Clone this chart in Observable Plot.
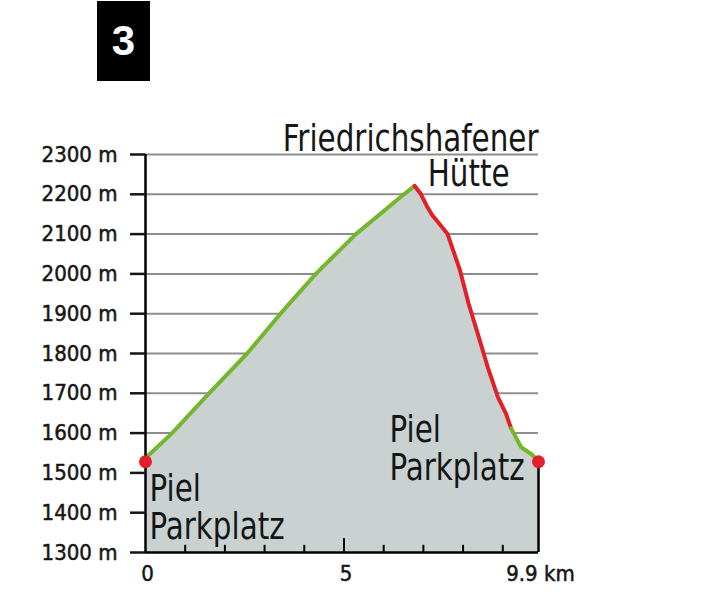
<!DOCTYPE html>
<html>
<head>
<meta charset="utf-8">
<script src="https://cdn.jsdelivr.net/npm/d3@7"></script>
<script src="https://cdn.jsdelivr.net/npm/@observablehq/plot@0.6"></script>
<style>
  body { margin: 0; background: #fff; }
  #wrap { position: relative; width: 712px; height: 603px; overflow: hidden; }
  #chart { position: absolute; left: 0; top: 0; }
  #badge { position: absolute; left: 97px; top: 1px; width: 53px; height: 80px; background: #000; z-index: 2; }
  #badge span { position: absolute; left: 0; width: 100%; top: 16px; line-height: 42px; text-align: center;
    color: #fff; font: bold 42px "Liberation Sans", Arial, sans-serif; }
</style>
</head>
<body>
<div id="wrap">
  <div id="chart"></div>
  <div id="badge"><span>3</span></div>
</div>
<script>
// ---- data ----
const upKm   = [0, 0.05, 0.67, 1.6, 2.56, 3.4, 4.29, 5.3, 6.51, 6.78];
const upElev = [1528, 1542, 1600, 1700, 1800, 1900, 2000, 2100, 2200, 2221];

const downKm   = [6.78, 6.94, 7.1, 7.22, 7.35, 7.61, 7.92, 8.14, 8.37, 8.62, 8.88, 9.08, 9.21];
const downElev = [2221, 2200, 2168, 2148, 2132, 2100, 2010, 1925, 1850, 1766, 1690, 1649, 1612];

const endKm   = [9.21, 9.29, 9.46, 9.75, 9.9];
const endElev = [1612, 1597, 1565, 1545, 1528];

const yTicks = [1300, 1400, 1500, 1600, 1700, 1800, 1900, 2000, 2100, 2200, 2300];
const gridElev = [1400, 1500, 1600, 1700, 1800, 1900, 2000, 2100, 2200, 2300];
const xMinorTicks = [1, 2, 3, 4, 6, 7, 8, 9];
const xMajorTicks = [5];
const xLabelKm = [0, 5, 9.9];
const xLabelText = ["0", "5", "9.9 km"];

const endpointKm = [0, 9.9];
const endpointElev = [1528, 1528];

const summitName = "Friedrichshafener";
const summitName2 = "Hütte";
const parkingName = "Piel\nParkplatz";

// ---- build tables ----
const zip = (ks, es) => ks.map((k, i) => ({km: k, elev: es[i]}));
const up = zip(upKm, upElev);
const down = zip(downKm, downElev);
const end = zip(endKm, endElev);
const profile = [...up, ...down.slice(1), ...end.slice(1)];
const endpoints = zip(endpointKm, endpointElev);
const xLabels = xLabelKm.map((k, i) => ({km: k, label: xLabelText[i]}));

const GREEN = "#74b72e";
const RED = "#e2202a";
const FILL = "#c9d1d1";
const GRID = "#8e8e8e";
const INK = "#161616";
const AXIS_FONT = "'DejaVu Sans Condensed', 'DejaVu Sans', sans-serif";
const LABEL_FONT = "'Liberation Sans Narrow', 'DejaVu Sans Condensed', sans-serif";
const LABEL_SIZE = 38;

const xMin = 0, xMax = 9.9, yMin = 1300, yMax = 2300;

const labelOpts = {fontSize: LABEL_SIZE, fontFamily: LABEL_FONT, fill: INK, lineHeight: 1.0};

const chart = Plot.plot({
  width: 712,
  height: 603,
  marginLeft: 145,
  marginRight: 174,
  marginTop: 154,
  marginBottom: 51,
  x: {domain: [xMin, xMax], axis: null},
  y: {domain: [yMin, yMax]},
  style: {background: "white", color: INK, fontFamily: AXIS_FONT, overflow: "visible"},
  marks: [
    Plot.ruleY(gridElev, {x1: xMin, x2: xMax, stroke: GRID, strokeWidth: 2}),
    Plot.areaY(profile, {x: "km", y1: yMin, y2: "elev", fill: FILL}),
    Plot.line(up, {x: "km", y: "elev", stroke: GREEN, strokeWidth: 4, strokeLinejoin: "round", strokeLinecap: "round"}),
    Plot.line(down, {x: "km", y: "elev", stroke: RED, strokeWidth: 4, strokeLinejoin: "round", strokeLinecap: "round"}),
    Plot.line(end, {x: "km", y: "elev", stroke: GREEN, strokeWidth: 4, strokeLinejoin: "round", strokeLinecap: "round"}),
    Plot.ruleX([xMin], {y1: yMin, y2: yMax, stroke: "#000", strokeWidth: 2.5}),
    Plot.ruleX([xMax], {y1: yMin, y2: endpointElev[1], stroke: "#000", strokeWidth: 2.5}),
    Plot.ruleY([yMin], {x1: xMin, x2: xMax, stroke: "#000", strokeWidth: 2.5}),
    Plot.ruleX(xMinorTicks, {y1: yMin, y2: yMin + 18, stroke: "#000", strokeWidth: 2}),
    Plot.ruleX(xMajorTicks, {y1: yMin, y2: yMin + 35, stroke: "#000", strokeWidth: 2}),
    Plot.axisY(yTicks, {
      anchor: "left", tickSize: 15, tickPadding: 13, strokeWidth: 2.5,
      tickFormat: d => `${d} m`, fontSize: 22, fontFamily: AXIS_FONT, fill: INK, label: null
    }),
    Plot.text(xLabels, {x: "km", y: yMin, text: "label", dy: 21, dx: 2, fontSize: 22, fontFamily: AXIS_FONT, fill: INK, stroke: INK, strokeWidth: 0.5}),
    Plot.dot(endpoints, {x: "km", y: "elev", r: 6.5, fill: RED, stroke: null}),
    Plot.text([summitName], {x: xMax, y: yMax, text: d => d, textAnchor: "end", lineAnchor: "bottom", dy: -4, ...labelOpts}),
    Plot.text([summitName2], {x: upKm[upKm.length - 1], y: yMax, text: d => d, textAnchor: "start", lineAnchor: "bottom", dx: 13, dy: 31, ...labelOpts}),
    Plot.text([parkingName], {x: xMin, y: yMin, text: d => d, textAnchor: "start", lineAnchor: "bottom", dx: 4, dy: -14, ...labelOpts}),
    Plot.text([parkingName], {x: xMax, y: yMin, text: d => d, textAnchor: "start", lineAnchor: "bottom", dx: -149, dy: -73, ...labelOpts})
  ]
});

// thicken the y tick labels slightly, like the reference
d3.select(chart).selectAll("g[aria-label='y-axis tick label'] text")
  .attr("stroke", INK).attr("stroke-width", 0.5);

// condense the place-name labels horizontally (no narrow font is installed)
d3.select(chart).selectAll("text")
  .filter(function () { return /Friedrichshafener|Hütte|Piel/.test(this.textContent); })
  .each(function () {
    const t = this.getAttribute("transform") || "";
    this.setAttribute("transform", `${t} scale(0.86,1)`);
  });

document.getElementById("chart").appendChild(chart);
</script>
</body>
</html>
